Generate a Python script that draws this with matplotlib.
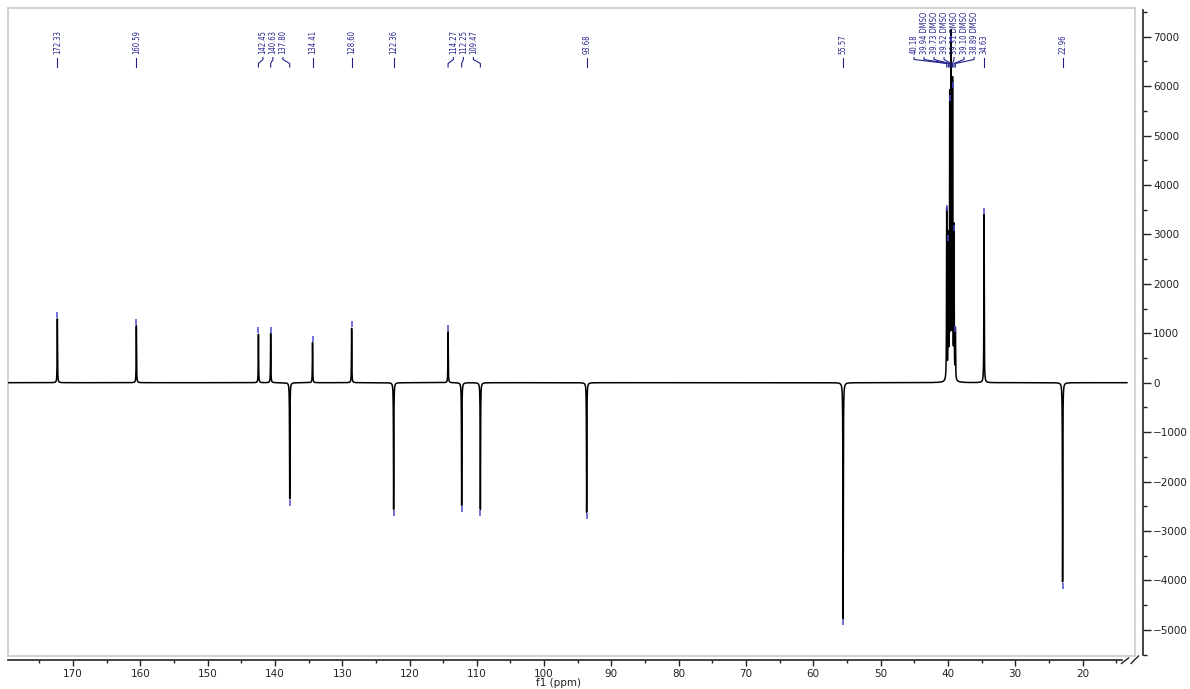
import numpy as np
import matplotlib
matplotlib.use("Agg")
import matplotlib.pyplot as plt
from matplotlib import transforms as mtrans
from matplotlib import font_manager as fm
from matplotlib.lines import Line2D
from matplotlib.ticker import MultipleLocator, FuncFormatter

# ---------------- data ----------------
shifts = [172.33, 160.59, 142.45, 140.63, 137.80, 134.41, 128.60, 122.36,
          114.27, 112.25, 109.47, 93.68, 55.57, 40.18, 39.94, 39.73, 39.52,
          39.31, 39.10, 38.89, 34.63, 22.96]
intensities = [1290, 1150, 980, 995, -2350, 810, 1100, -2560,
               1030, -2480, -2560, -2620, -4770, 3450, 2850, 5680, 6870,
               5950, 3040, 1000, 3400, -4030]
peak_labels = ["172.33", "160.59", "142.45", "140.63", "137.80", "134.41",
               "128.60", "122.36", "114.27", "112.25", "109.47", "93.68",
               "55.57", "40.18", "39.94 DMSO", "39.73 DMSO", "39.52 DMSO",
               "39.31 DMSO", "39.10 DMSO", "38.89 DMSO", "34.63", "22.96"]
x_major_ticks = [170, 160, 150, 140, 130, 120, 110, 100, 90, 80, 70, 60, 50, 40, 30, 20]
y_major_ticks = [7000, 6000, 5000, 4000, 3000, 2000, 1000, 0,
                 -1000, -2000, -3000, -4000, -5000]
x_label = "f1 (ppm)"
ppm_start, ppm_end = 179.6, 13.4   # recorded spectral window
hwhm = 0.03                       # line half-width (ppm)

# ---------------- layout ----------------
W, H = 1190, 689
fig = plt.figure(figsize=(W / 100, H / 100), dpi=100)
L, R, T, B = 8, 1135, 8, 656
pos = [L / W, 1 - B / H, (R - L) / W, (B - T) / H]
XLIM = (179.66, 12.2)
YLIM = (-5529, 7580)

names = {f.name for f in fm.fontManager.ttflist}
if "Liberation Sans Narrow" in names:
    lab_font = dict(family="Liberation Sans Narrow", size=6.1)
else:
    lab_font = dict(family="DejaVu Sans", size=5.5, stretch="condensed")

lab_col = "#22228c"
mark_col = "#4a4ad0"

# frame axes (light gray box) + spectrum
ax = fig.add_axes(pos)
ax.set_xlim(*XLIM)
ax.set_ylim(*YLIM)
ax.set_xticks([])
ax.set_yticks([])
for s in ax.spines.values():
    s.set_color("#cfcfcf")
    s.set_linewidth(1.3)

ppm = np.linspace(ppm_start, ppm_end, 60000)
ppm = np.sort(np.union1d(ppm, np.array(shifts)))[::-1]
spec = np.zeros_like(ppm)
for p, h in zip(shifts, intensities):
    spec += h * hwhm ** 2 / ((ppm - p) ** 2 + hwhm ** 2)
ax.plot(ppm, spec, color="black", lw=1.1, zorder=3)

# peak-pick markers
for p, h in zip(shifts, intensities):
    sgn = 1 if h > 0 else -1
    tr = mtrans.offset_copy(ax.transData, fig=fig, y=sgn * 4.0, units="dots")
    ax.plot([p], [h], marker="|", ms=4.3, mew=1.1, color=mark_col,
            transform=tr, zorder=4, clip_on=False)

# axis overlay (black outward spines with ticks)
ax2 = fig.add_axes(pos)
ax2.set_xlim(*XLIM)
ax2.set_ylim(*YLIM)
ax2.patch.set_visible(False)
ax2.spines["top"].set_visible(False)
ax2.spines["left"].set_visible(False)
ax2.spines["bottom"].set_position(("outward", 3))
ax2.spines["right"].set_position(("outward", 6))
ax2.spines["bottom"].set_bounds(XLIM[0], 14.2)
ax2.spines["right"].set_bounds(-5500, 7530)
for k in ("bottom", "right"):
    ax2.spines[k].set_color("#222222")
    ax2.spines[k].set_linewidth(1.2)
ax2.yaxis.tick_right()
ax2.set_xticks(x_major_ticks)
ax2.xaxis.set_minor_locator(MultipleLocator(5))
ax2.set_yticks(y_major_ticks)
ax2.yaxis.set_minor_locator(MultipleLocator(500))
ax2.xaxis.set_major_formatter(FuncFormatter(lambda v, _: f"{v:.0f}"))
ax2.yaxis.set_major_formatter(FuncFormatter(lambda v, _: f"{v:.0f}".replace("-", "\u2212")))
ax2.tick_params(axis="x", which="major", length=4.5, width=1, pad=2,
                labelsize=7.5, colors="#222222")
ax2.tick_params(axis="x", which="minor", length=2.5, width=1, colors="#222222")
ax2.tick_params(axis="y", which="major", length=5.5, width=1, pad=1.5,
                labelsize=7.5, colors="#222222")
ax2.tick_params(axis="y", which="minor", length=3, width=1, colors="#222222")

fig.text(558 / W, 1 - 683 / H, x_label, ha="center", va="center",
         fontsize=7.5, color="#222222")

# axis break marks
def fig_line(x0, y0, x1, y1):
    fig.add_artist(Line2D([x0 / W, x1 / W], [1 - y0 / H, 1 - y1 / H],
                          transform=fig.transFigure, color="#222222", lw=1.0))
fig_line(1121.5, 663.5, 1128.5, 658.0)
fig_line(1131.0, 663.5, 1138.5, 656.0)

# ---------------- peak labels with connectors ----------------
fig.canvas.draw()
px = ax.transData.transform(np.column_stack([shifts, np.zeros(len(shifts))]))[:, 0]
order = np.argsort(px)
pxs = px[order]
d = 10.0
group_gap = 21.0
lab = np.empty_like(pxs)
i = 0
while i < len(pxs):
    j = i
    while j + 1 < len(pxs) and pxs[j + 1] - pxs[j] < group_gap:
        j += 1
    n = j - i + 1
    c = pxs[i:j + 1].mean()
    lab[i:j + 1] = c + (np.arange(n) - (n - 1) / 2) * d
    i = j + 1
for k in range(len(lab) - 2, -1, -1):
    lab[k] = min(lab[k], lab[k + 1] - d)

lab_ppm = ax.transData.inverted().transform(np.column_stack([lab, np.zeros(len(lab))]))[:, 0]
btr = mtrans.blended_transform_factory(ax.transData, ax.transAxes)

def ya(py):
    return (B - py) / (B - T)

for idx_sorted, k in enumerate(order):
    p = shifts[k]
    lp = lab_ppm[idx_sorted]
    if abs(lab[idx_sorted] - pxs[idx_sorted]) < 0.6:
        xs, ys = [p, p], [ya(57.5), ya(67)]
    else:
        xs = [lp, lp, p, p]
        ys = [ya(57.5), ya(59.5), ya(63.5), ya(67)]
    ax.plot(xs, ys, color=lab_col, lw=0.8, transform=btr, clip_on=False, zorder=5)
    ax.text(lp, ya(54), peak_labels[k], rotation=90, ha="center", va="bottom",
            color=lab_col, transform=btr, zorder=5, **lab_font)

fig.savefig("out.png", dpi=100)
